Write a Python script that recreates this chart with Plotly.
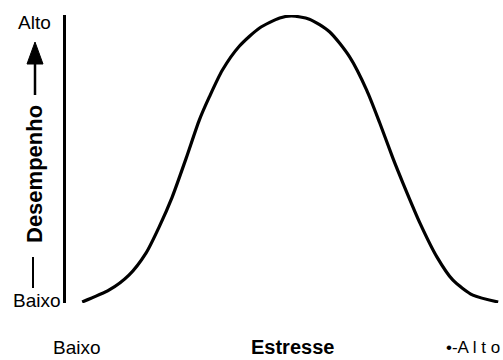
import plotly.graph_objects as go

# Stress level (0-100) and performance (0-100) along the curve
stress = [3.7, 9.9, 14.4, 18.3, 21.3, 24.3, 27.5, 30.5, 32.8, 35.8, 39.7, 44.3,
          48.9, 51.6, 55.7, 60.3, 64.9, 68.8, 71.8, 74.8, 77.1, 81.0, 84.9, 88.5,
          93.1, 98.9]
performance = [0, 4.2, 9.4, 17.1, 26.2, 36.7, 50.3, 63.6, 71.7, 81.1, 89.5, 95.8,
               99.3, 100, 98.9, 94.5, 85.7, 74.1, 62.6, 50.3, 41.6, 27.6, 15.7, 7.7,
               2.4, 0]

y_axis_title = "Desempenho"
x_axis_title = "Estresse"
low_label = "Baixo"
high_label = "Alto"

W, H = 503, 360
ML, MR, MT, MB = 66, 0, 15, 57
PW, PH = W - ML - MR, H - MT - MB


def xp(px):
    return (px - ML) / PW


def yp(py):
    return (H - MB - py) / PH


FONT = "Liberation Sans, Arial, sans-serif"

fig = go.Figure()
fig.add_trace(go.Scatter(
    x=stress, y=performance, mode="lines",
    line=dict(color="black", width=3.2, shape="spline", smoothing=0.7),
    hoverinfo="skip", showlegend=False,
))

annotations = [
    dict(x=xp(53), y=yp(22), text=high_label, xanchor="right", yanchor="middle",
         font=dict(size=19, color="black", family=FONT)),
    dict(x=xp(63), y=yp(300), text=low_label, xanchor="right", yanchor="middle",
         font=dict(size=19, color="black", family=FONT)),
    dict(x=xp(35), y=yp(174), text="<b>" + y_axis_title + "</b>", textangle=-90,
         xanchor="center", yanchor="middle",
         font=dict(size=22, color="black", family=FONT)),
    dict(x=xp(77), y=yp(347), text=low_label, xanchor="center", yanchor="middle",
         font=dict(size=19, color="black", family=FONT)),
    dict(x=xp(292), y=yp(347), text="<b>" + x_axis_title + "</b>",
         xanchor="center", yanchor="middle",
         font=dict(size=20, color="black", family=FONT)),
    dict(x=xp(502), y=yp(347), text="•-A l t o", xanchor="right",
         yanchor="middle", font=dict(size=17, color="black", family=FONT)),
]
for a in annotations:
    a.update(xref="paper", yref="paper", showarrow=False)

shapes = [
    # arrow shaft and head above the performance title
    dict(type="line", xref="paper", yref="paper",
         x0=xp(35), x1=xp(35), y0=yp(95), y1=yp(60),
         line=dict(color="black", width=2.5)),
    dict(type="path", xref="paper", yref="paper",
         path=f"M {xp(27)} {yp(64)} L {xp(35)} {yp(42)} L {xp(43)} {yp(64)} Z",
         fillcolor="black", line=dict(color="black", width=1)),
    # tail below the title
    dict(type="line", xref="paper", yref="paper",
         x0=xp(33), x1=xp(33), y0=yp(257), y1=yp(288),
         line=dict(color="black", width=2)),
]

fig.update_layout(
    width=W, height=H, autosize=False,
    margin=dict(l=ML, r=MR, t=MT, b=MB, pad=0),
    paper_bgcolor="white", plot_bgcolor="white",
    xaxis=dict(range=[0, 100], visible=False, fixedrange=True),
    yaxis=dict(range=[-0.35, 100.35], showline=True, linewidth=3, linecolor="black",
               showgrid=False, zeroline=False, showticklabels=False, ticks="",
               fixedrange=True),
    annotations=annotations, shapes=shapes,
)

fig.write_html("out.html", config={"displayModeBar": False})
